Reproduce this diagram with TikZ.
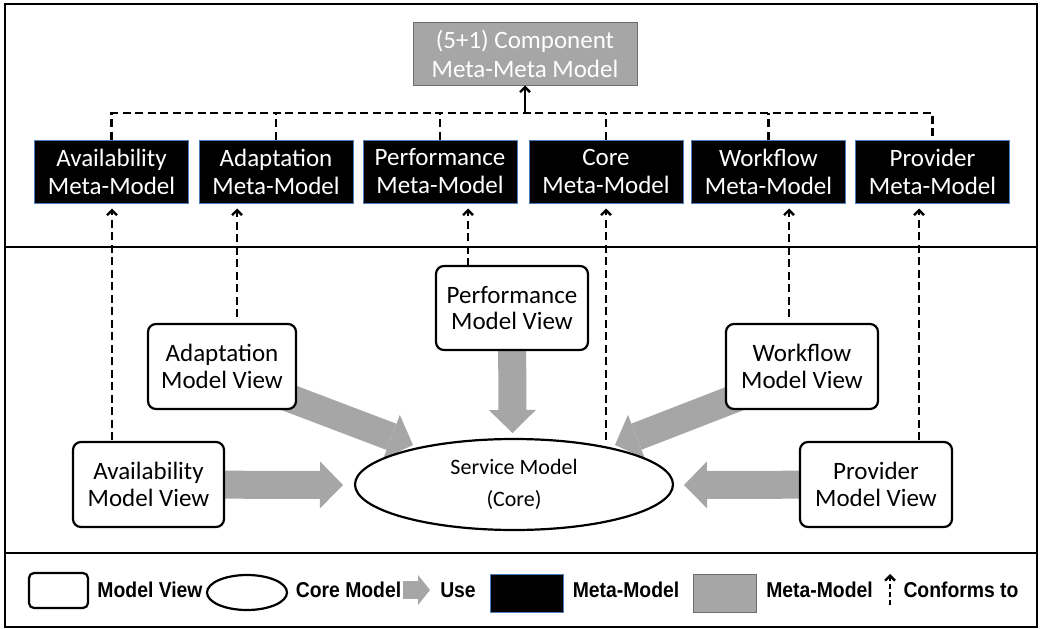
\documentclass[tikz,border=0pt]{standalone}
\usepackage{fontspec}
\setmainfont{Carlito}
\newfontfamily\legendfont[FakeStretch=0.9]{Liberation Sans}
\usetikzlibrary{arrows.meta,shapes.geometric,calc,backgrounds}
\definecolor{usegray}{HTML}{A6A6A6}
\definecolor{mmborder}{HTML}{4A7EBB}
\definecolor{mmmborder}{HTML}{6E6E6E}

\begin{document}
\begin{tikzpicture}[x=1pt,y=-1pt,
  frame/.style={draw=black, line width=2pt},
  metabox/.style={draw=mmborder, line width=1pt, fill=black, text=white,
    minimum width=154pt, minimum height=63pt, inner sep=0pt, align=center,
    font=\fontsize{25}{28}\selectfont},
  topbox/.style={draw=mmmborder, line width=1pt, fill=usegray, text=white,
    minimum width=224pt, minimum height=63pt, inner sep=0pt, align=center,
    font=\fontsize{25}{29}\selectfont},
  viewbox/.style={draw=black, line width=2.2pt, fill=white, rounded corners=8pt,
    minimum height=85pt, inner sep=0pt, align=center,
    font=\fontsize{25}{26.5}\selectfont},
  coreell/.style={draw=black, line width=2.2pt, fill=white, ellipse,
    minimum width=318pt, minimum height=91pt, inner sep=0pt, align=center,
    font=\fontsize{22}{32}\selectfont},
  busline/.style={draw=black, line width=2.4pt, dash pattern=on 8pt off 4.5pt},
  conform/.style={busline, -{Straight Barb[length=5pt,width=10pt]}},
  usearrow/.style={draw=usegray, line width=28pt,
    -{Triangle[length=23pt,width=47pt,line width=0pt]}},
  legtext/.style={font=\legendfont\bfseries\fontsize{21.5}{24}\selectfont, inner sep=0pt},
]
\useasboundingbox (0,0) rectangle (1042,629);

% panels
\draw[frame] (5,4) rectangle (1037,627);
\draw[frame, line width=2.5pt] (5,247) -- (1037,247);
\draw[frame, line width=2.5pt] (5,553) -- (1037,553);

% meta-meta model and meta-models
\node[topbox] (mmm) at (525,53.5) {(5+1) Component\\Meta-Meta Model};
\node[metabox] (avmm) at (111.5,171.5) {Availability\\Meta-Model};
\node[metabox] (admm) at (276,171.5) {Adaptation\\Meta-Model};
\node[metabox] (pfmm) at (440,171.5) {Performance\\Meta-Model};
\node[metabox] (comm) at (606,171.5) {Core\\Meta-Model};
\node[metabox] (wfmm) at (768.5,171.5) {Workflow\\Meta-Model};
\node[metabox] (prmm) at (932.5,171.5) {Provider\\Meta-Model};

\coordinate (bus) at (525,113);
\draw[busline] (avmm.north) |- (bus) -| (prmm.north);
\foreach \n in {admm,pfmm,comm,wfmm}
  \draw[busline] (\n.north) -- (\n.north |- bus);
\draw[line width=2.4pt, -{Straight Barb[length=5pt,width=10pt]}] (bus) -- (mmm.south);

% model views and the core model
\node[viewbox, minimum width=151pt] (avmv) at (148.5,484.5) {Availability\\Model View};
\node[viewbox, minimum width=148pt] (admv) at (222,366.5) {Adaptation\\Model View};
\node[viewbox, minimum width=152pt, minimum height=84pt] (pfmv) at (512,308) {Performance\\Model View};
\node[viewbox, minimum width=152pt] (wfmv) at (802,366.5) {Workflow\\Model View};
\node[viewbox, minimum width=152pt] (prmv) at (876,484.5) {Provider\\Model View};
\node[coreell] (core) at (514,484.5) {Service Model\\(Core)};

% "use" arrows towards the core model
\coordinate (avtip) at (343,485);
\coordinate (adtip) at (413,445);
\coordinate (pftip) at (512.5,433);
\coordinate (wftip) at (615,445);
\coordinate (prtip) at (684,485);
\begin{scope}[on background layer]
  \draw[usearrow] (avmv.center) -- (avtip);
  \draw[usearrow] ($(admv.center)+(0,6)$) -- (adtip);
  \draw[usearrow] (pfmv.center) -- (pftip);
  \draw[usearrow] ($(wfmv.center)+(0,6)$) -- (wftip);
  \draw[usearrow] (prmv.center) -- (prtip);
\end{scope}

% "conforms to" links
\coordinate (avfoot) at (112,440);
\coordinate (adfoot) at (237,317);
\coordinate (pffoot) at (468,266);
\coordinate (cofoot) at (606,440);
\coordinate (wffoot) at (789,317);
\coordinate (prfoot) at (919,440);
\draw[conform, shorten >=5pt] (avfoot) -- (avmm.south -| avfoot);
\draw[conform, shorten >=5pt] (adfoot) -- (admm.south -| adfoot);
\draw[conform, shorten >=5pt] (pffoot) -- (pfmm.south -| pffoot);
\draw[conform, shorten >=5pt] (cofoot) -- (comm.south -| cofoot);
\draw[conform, shorten >=5pt] (wffoot) -- (wfmm.south -| wffoot);
\draw[conform, shorten >=5pt] (prfoot) -- (prmm.south -| prfoot);

% legend
\node[draw, line width=2.2pt, rounded corners=5pt, minimum width=59pt,
  minimum height=35pt, inner sep=0pt] (lgview) at (58.5,590.5) {};
\node[legtext] (lgviewt) at (150,590) {Model View};
\node[draw, ellipse, line width=2.2pt, minimum width=80pt, minimum height=35pt,
  inner sep=0pt] (lgcore) at (247,592.5) {};
\node[legtext] (lgcoret) at (348.5,590) {Core Model};
\coordinate (lguseA) at (403,590);
\coordinate (lguseB) at (430,590);
\draw[draw=usegray, line width=18pt,
  -{Triangle[length=12pt,width=30pt,line width=0pt]}] (lguseA) -- (lguseB);
\node[legtext] (lguset) at (458,590) {Use};
\node[metabox, minimum width=73pt, minimum height=38pt] (lgmeta) at (526.5,593) {};
\node[legtext] (lgmetat) at (626,590) {Meta-Model};
\node[topbox, minimum width=63pt, minimum height=38pt] (lgtop) at (724.5,593) {};
\node[legtext] (lgtopt) at (819.5,590) {Meta-Model};
\coordinate (lgcA) at (890,605);
\coordinate (lgcB) at (890,574);
\draw[conform, dash pattern=on 5pt off 3pt] (lgcA) -- (lgcB);
\node[legtext] (lgconft) at (961,590) {Conforms to};
\end{tikzpicture}
\end{document}
